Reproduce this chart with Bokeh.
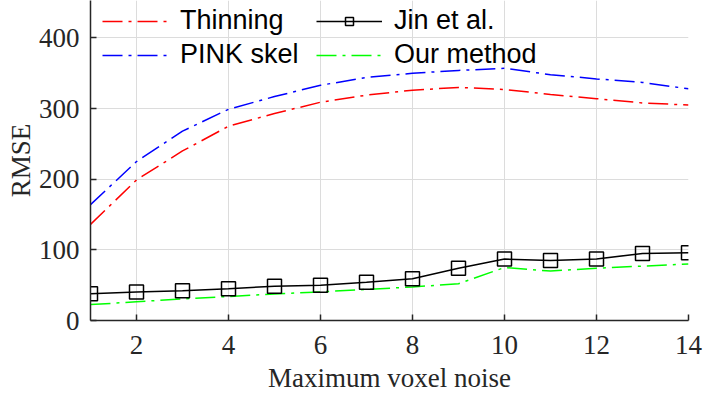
from bokeh.plotting import figure
from bokeh.models import Range1d, FixedTicker, Legend, LegendItem
from bokeh.embed import file_html
from bokeh.resources import INLINE

noise = [1, 2, 3, 4, 5, 6, 7, 8, 9, 10, 11, 12, 13, 14]
thinning = [136, 199, 240, 275, 293, 309, 319, 326, 330, 327, 320, 314, 308, 305]
pink_skel = [164, 225, 268, 299, 317, 333, 344, 350, 354, 357, 348, 342, 337, 328]
jin_et_al = [38, 40.5, 42, 45, 48.5, 50, 54, 59, 74, 87, 85, 87, 95, 96]
our_method = [22.5, 26.5, 30.5, 34, 37.5, 40.5, 44, 47.5, 52, 75, 70, 74, 77, 80]
x_ticks = [2, 4, 6, 8, 10, 12, 14]
y_ticks = [0, 100, 200, 300, 400]

SERIF = "Liberation Serif"
SANS = "Liberation Sans"
AX = "#262626"

p = figure(width=706, height=395, output_backend="svg", toolbar_location=None,
           x_range=Range1d(1, 14), y_range=Range1d(0, 453),
           min_border_left=90, min_border_right=18, min_border_top=0,
           min_border_bottom=74)
p.outline_line_color = None
p.background_fill_color = "white"

for ax in (p.xaxis[0], p.yaxis[0]):
    ax.axis_line_color = AX
    ax.axis_line_width = 1.5
    ax.major_tick_line_color = AX
    ax.major_tick_line_width = 1.5
    ax.major_tick_in = 6
    ax.major_tick_out = 0
    ax.minor_tick_line_color = None
    ax.major_label_text_font = SERIF
    ax.major_label_text_font_size = "27px"
    ax.major_label_text_color = AX
    ax.axis_label_text_font = SERIF
    ax.axis_label_text_font_size = "27px"
    ax.axis_label_text_font_style = "normal"
    ax.axis_label_text_color = AX

p.xaxis.ticker = FixedTicker(ticks=x_ticks)
p.yaxis.ticker = FixedTicker(ticks=y_ticks)
p.xaxis.axis_label = "Maximum voxel noise"
p.yaxis.axis_label = "RMSE"
p.xaxis.major_label_standoff = 15
p.xaxis.axis_label_standoff = 6
p.yaxis.major_label_standoff = 11
p.yaxis.axis_label_standoff = 0

p.xgrid.grid_line_color = "#dcdcdc"
p.ygrid.grid_line_color = "#dcdcdc"
p.xgrid.grid_line_width = 1
p.ygrid.grid_line_width = 1

dash = "20 6 3 6"
r_thin = p.line(noise, thinning, line_color="#ff0000", line_width=1.5, line_dash=dash)
r_pink = p.line(noise, pink_skel, line_color="#0000ff", line_width=1.5, line_dash=dash)
r_our = p.line(noise, our_method, line_color="#00ff00", line_width=1.5, line_dash=dash)
r_jin = p.line(noise, jin_et_al, line_color="black", line_width=1.5)
r_jin_m = p.scatter(noise, jin_et_al, marker="square", size=14, fill_color=None,
                    line_color="black", line_width=1.5)

legend = Legend(items=[
    LegendItem(label="Thinning", renderers=[r_thin]),
    LegendItem(label="PINK skel", renderers=[r_pink]),
    LegendItem(label="Jin et al.", renderers=[r_jin, r_jin_m]),
    LegendItem(label="Our method", renderers=[r_our]),
], ncols=2)
legend.location = (12, 250)
legend.margin = 0
legend.padding = 4
legend.spacing = 3
legend.glyph_width = 66
legend.glyph_height = 20
legend.label_standoff = 12
legend.label_width = 133
legend.label_text_font = SANS
legend.label_text_font_size = "27px"
legend.label_text_color = "black"
legend.background_fill_alpha = 0
legend.border_line_color = None
p.add_layout(legend)

open("out.html", "w").write(file_html(p, INLINE))
